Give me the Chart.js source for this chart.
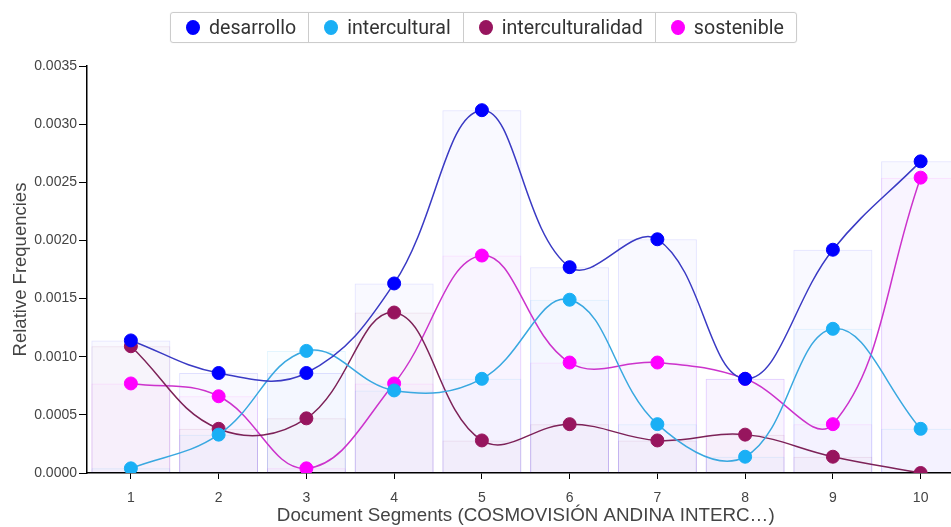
<!DOCTYPE html>
<html>
<head>
<meta charset="utf-8">
<script src="https://cdn.jsdelivr.net/npm/chart.js@4.4.1/dist/chart.umd.min.js"></script>
<style>
  html, body { margin: 0; padding: 0; background: #fff; overflow: hidden; }
  #wrap { position: relative; width: 951px; height: 527px; overflow: hidden; }
  #chart-box { position: absolute; left: 0; top: 0; width: 972px; height: 527px; }
  #leyenda {
    position: absolute; left: 170px; top: 12px; height: 29px;
    display: flex; border: 1px solid #ccc; border-radius: 3px;
    font-family: Roboto, "Liberation Sans", Arial, sans-serif; font-size: 19.6px; color: #333;
    box-shadow: 0 0 1px #ddd;
  }
  #leyenda .item { display: flex; align-items: center; padding: 0 12px 0 15px; border-left: 1px solid #ccc; }
  #leyenda .item:first-child { border-left: none; }
  #leyenda .dot { width: 14px; height: 15px; border-radius: 50%; margin-right: 9px; }
</style>
</head>
<body>
<div id="wrap">
  <div id="chart-box"><canvas id="grafico"></canvas></div>
  <div id="leyenda"></div>
</div>
<script>
const segmentos = ["1", "2", "3", "4", "5", "6", "7", "8", "9", "10"];

const desarrollo        = [0.00114, 0.00086, 0.00086, 0.00163, 0.00312, 0.00177, 0.00201, 0.00081, 0.00192, 0.00268];
const intercultural     = [0.00004, 0.00033, 0.00105, 0.00071, 0.00081, 0.00149, 0.00042, 0.00014, 0.00124, 0.00038];
const interculturalidad = [0.00109, 0.00038, 0.00047, 0.00138, 0.00028, 0.00042, 0.00028, 0.00033, 0.00014, 0.00000];
const sostenible        = [0.00077, 0.00066, 0.00004, 0.00077, 0.00187, 0.00095, 0.00095, 0.00081, 0.00042, 0.00254];

const series = [
  { nombre: "desarrollo",        datos: desarrollo,        punto: "#0000ff", linea: "#3a3ac4" },
  { nombre: "intercultural",     datos: intercultural,     punto: "#1aaff5", linea: "#3aa8e0" },
  { nombre: "interculturalidad", datos: interculturalidad, punto: "#97155e", linea: "#7d2258" },
  { nombre: "sostenible",        datos: sostenible,        punto: "#ff00ff", linea: "#cc33cc" },
];

// Leyenda en HTML (caja con separadores)
const leyenda = document.getElementById("leyenda");
series.forEach((s) => {
  leyenda.insertAdjacentHTML("beforeend",
    `<div class="item"><span class="dot" style="background:${s.punto}"></span>${s.nombre}</div>`);
});

function hexAlpha(hex, a) {
  const r = parseInt(hex.slice(1, 3), 16);
  const g = parseInt(hex.slice(3, 5), 16);
  const b = parseInt(hex.slice(5, 7), 16);
  return `rgba(${r},${g},${b},${a})`;
}

let datasets = [];

// Barras de fondo, superpuestas
series.forEach((s) => {
  datasets.push({
    type: "bar",
    label: s.nombre + " (barras)",
    data: s.datos,
    backgroundColor: hexAlpha(s.punto, 0.025),
    borderColor: hexAlpha(s.punto, 0.12),
    borderWidth: 1,
    grouped: false,
    barPercentage: 0.9,
    categoryPercentage: 1,
    order: 2,
  });
});

// Líneas suavizadas
series.forEach((s) => {
  datasets.push({
    type: "line",
    label: s.nombre,
    data: s.datos,
    borderColor: s.linea,
    borderWidth: 1.5,
    tension: 0.4,
    pointRadius: 6.5,
    pointBackgroundColor: s.punto,
    pointBorderColor: s.punto,
    pointBorderWidth: 1,
    fill: false,
    order: 1,
  });
});

const ctx = document.getElementById("grafico").getContext("2d");
new Chart(ctx, {
  type: "bar",
  data: { labels: segmentos, datasets },
  options: {
    responsive: true,
    maintainAspectRatio: false,
    animation: false,
    layout: { padding: { top: 66, right: 2, left: 0, bottom: 0 } },
    plugins: { legend: { display: false }, tooltip: { enabled: false } },
    scales: {
      x: {
        offset: true,
        grid: { offset: false, drawOnChartArea: false, color: "#000", tickLength: 6 },
        border: { color: "#000", width: 1.5 },
        ticks: { color: "#444", font: { family: "Liberation Sans, Arial", size: 14 }, padding: 11 },
        title: {
          display: true,
          text: "Document Segments (COSMOVISIÓN ANDINA INTERC…)",
          color: "#444",
          font: { family: "Liberation Sans, Arial", size: 18.8 },
          padding: { top: 0, bottom: 0 },
        },
        afterFit: (scale) => { scale.height = 54; },
      },
      y: {
        min: 0,
        max: 0.0035,
        grid: { drawOnChartArea: false, color: "#000", tickLength: 8 },
        border: { color: "#000", width: 1.5 },
        ticks: {
          stepSize: 0.0005,
          color: "#444",
          font: { family: "Liberation Sans, Arial", size: 14 },
          padding: 2,
          callback: (v) => v.toFixed(4),
        },
        title: {
          display: true,
          text: "Relative Frequencies",
          color: "#444",
          font: { family: "Liberation Sans, Arial", size: 18.5 },
          padding: { top: 10, bottom: 0 },
        },
        afterFit: (scale) => { scale.width = 87; },
      },
    },
  },
});
</script>
</body>
</html>
